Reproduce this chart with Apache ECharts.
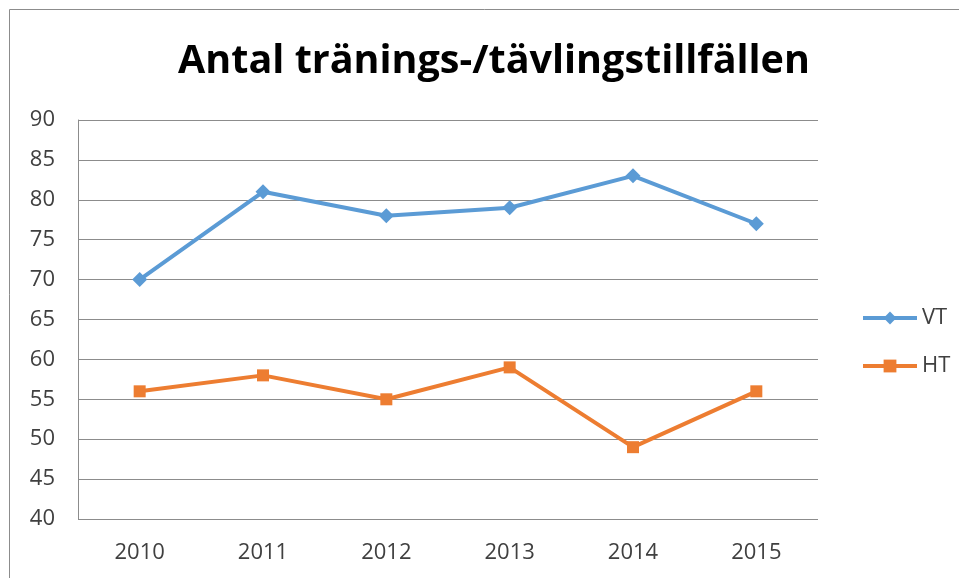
<!DOCTYPE html>
<html>
<head>
<meta charset="utf-8">
<script src="https://cdn.jsdelivr.net/npm/echarts@6/dist/echarts.min.js"></script>
<style>
  html, body { margin: 0; padding: 0; background: #fff; }
  #chart { width: 959px; height: 578px; }
</style>
</head>
<body>
<div id="chart"></div>
<script>
const years = ['2010', '2011', '2012', '2013', '2014', '2015'];
const vtValues = [70, 81, 78, 79, 83, 77];
const htValues = [56, 58, 55, 59, 49, 56];

var myChart = echarts.init(document.getElementById('chart'));

option = {
    backgroundColor: '#fff',
    animation: false,
    title: {
        text: 'Antal tränings-/tävlingstillfällen',
        left: 489,
        textAlign: 'center',
        top: 37,
        textStyle: {
            fontFamily: 'Open Sans',
            fontWeight: 'bold',
            fontSize: 39.5,
            color: '#000'
        }
    },
    graphic: [
        {
            type: 'polyline',
            shape: { points: [[9.5, 600], [9.5, 9.5], [970, 9.5]] },
            style: { stroke: '#8c8c8c', lineWidth: 1, fill: null }
        }
    ],
    legend: {
        orient: 'vertical',
        left: 856,
        top: 302,
        itemGap: 26,
        itemWidth: 54,
        itemHeight: 16,
        lineStyle: { width: 4 },
        textStyle: {
            fontFamily: 'Open Sans',
            fontSize: 22,
            color: '#404040',
            padding: [0, 0, 0, 0]
        },
        data: ['VT', 'HT']
    },
    grid: {
        left: 78,
        right: 141,
        top: 120,
        bottom: 59
    },
    xAxis: {
        type: 'category',
        data: years,
        boundaryGap: true,
        axisLine: { show: false },
        axisTick: { show: false },
        axisLabel: {
            margin: 23,
            fontFamily: 'Open Sans',
            fontSize: 22,
            color: '#404040'
        }
    },
    yAxis: {
        type: 'value',
        min: 40,
        max: 90,
        interval: 5,
        axisLine: { show: true, lineStyle: { color: '#8c8c8c', width: 1 } },
        axisTick: { show: false },
        axisLabel: {
            margin: 23,
            fontFamily: 'Open Sans',
            fontSize: 22,
            color: '#404040'
        },
        splitLine: { lineStyle: { color: '#8c8c8c', width: 1 } }
    },
    series: [
        {
            name: 'VT',
            type: 'line',
            data: vtValues,
            symbol: 'diamond',
            symbolSize: 15,
            lineStyle: { color: '#5B9BD5', width: 4 },
            itemStyle: { color: '#5B9BD5' }
        },
        {
            name: 'HT',
            type: 'line',
            data: htValues,
            symbol: 'rect',
            symbolSize: 12,
            lineStyle: { color: '#ED7D31', width: 4 },
            itemStyle: { color: '#ED7D31' }
        }
    ]
};
myChart.setOption(option);
</script>
</body>
</html>
